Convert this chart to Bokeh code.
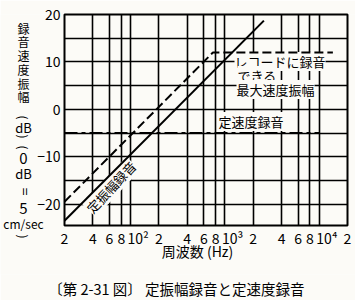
import math
from bokeh.plotting import figure
from bokeh.layouts import row
from bokeh.models import FixedTicker, Label, Range1d, Title
from bokeh.embed import file_html
from bokeh.resources import INLINE

# ---- data ----
freq_ticks = [20, 40, 60, 80, 100, 200, 400, 600, 800, 1000,
              2000, 4000, 6000, 8000, 10000, 20000]
freq_tick_labels = ["2", "4", "6", "8", "\u2007\u200710\u00b2",
                    "2", "4", "6", "8", "\u2007\u200710\u00b3",
                    "2", "4", "6", "8", "\u2007\u200710\u2074", "2"]
db_ticks = [20, 10, 0, -10, -20]
db_tick_labels = ["20", "10", "0", "\u221210", "\u221220"]
db_grid = [-20, -15, -10, -5, 0, 5, 10, 15]

amp_freq = [20, 2600]          # 定振幅録音
amp_db = [-23.5, 18.7]
maxvel_freq = [20, 750, 14000]  # レコードに録音できる最大速度振幅
maxvel_db = [-19.5, 12, 12]
constvel_freq = [20, 10000]     # 定速度録音
constvel_db = [-5, -5]

# vertical y-axis title (written top to bottom)
y_title_parts = ["録", "音", "速", "度", "振", "幅", "(", "dB", ")",
                 "(", "0", "dB", "=", "5", "cm/sec", ")"]
x_title = "周波数 (Hz)"
caption = "〔第 2-31 図〕  定振幅録音と定速度録音"

# placement of the y-title pieces (canvas pixels) and their styling
y_title_pos = [27.5, 41, 55, 69, 82.5, 96, 117, 127, 136,
               147, 157.5, 173, 191, 208, 223, 236]
y_title_size = ["12px"] * 6 + ["12px", "13px", "12px", "12px", "15px",
                               "13px", "14px", "15px", "12px", "12px"]
y_title_rot = [0] * 6 + [-math.pi / 2, 0, -math.pi / 2, -math.pi / 2, 0, 0,
                         math.pi / 2, 0, 0, -math.pi / 2]

FONT = "Noto Sans CJK JP"
BG = "#fcfbf7"

W, H = 355, 300
L, R, T = 64, 8, 14
FRAME_BOTTOM = 225
PB = 26                       # border below the chart frame
PH = FRAME_BOTTOM + PB        # height of the chart canvas

# ---- background sheet: texts that lie outside the chart frame ----
sheet = figure(width=W, height=H, x_range=Range1d(0, W),
               y_range=Range1d(H - PB, T),
               output_backend="svg", toolbar_location=None,
               min_border=0, x_axis_location=None, y_axis_location=None,
               background_fill_color=BG, border_fill_color=BG,
               margin=(0, -W, 0, 0))
sheet.outline_line_color = None
sheet.xgrid.visible = False
sheet.ygrid.visible = False
for txt, yc, fs, rot in zip(y_title_parts, y_title_pos, y_title_size, y_title_rot):
    sheet.add_layout(Label(x=23, y=yc, text=txt, text_font=FONT,
                           text_font_size=fs, text_color="black",
                           text_align="center", text_baseline="middle",
                           angle=rot, angle_units="rad"))
sheet.add_layout(Label(x=197, y=250, text=x_title, text_font=FONT,
                       text_font_size="14px", text_color="black",
                       text_align="center", text_baseline="middle"))
sheet.add_layout(Title(text=caption, align="center", offset=10,
                       text_font=FONT, text_font_size="14.5px",
                       text_font_style="normal", text_color="black",
                       standoff=3), "below")

# ---- main chart ----
p = figure(width=W, height=PH, x_axis_type="log",
           x_range=Range1d(20, 20000), y_range=Range1d(-24.5, 20),
           output_backend="svg", toolbar_location=None,
           min_border_left=L, min_border_right=R,
           min_border_top=T, min_border_bottom=PB,
           background_fill_color=BG, border_fill_color=None)

p.outline_line_color = "black"
p.outline_line_width = 2

p.xaxis.ticker = FixedTicker(ticks=freq_ticks, minor_ticks=[])
p.xaxis.major_label_overrides = {t: s for t, s in zip(freq_ticks, freq_tick_labels)}
p.yaxis.ticker = FixedTicker(ticks=db_ticks, minor_ticks=[])
p.yaxis.major_label_overrides = {t: s for t, s in zip(db_ticks, db_tick_labels)}

for ax in (p.xaxis[0], p.yaxis[0]):
    ax.axis_line_color = None
    ax.major_tick_line_color = None
    ax.minor_tick_line_color = None
    ax.major_tick_out = 0
    ax.major_tick_in = 0
    ax.major_label_text_font = FONT
    ax.major_label_text_font_size = "14px"
    ax.major_label_text_color = "black"
p.xaxis.major_label_standoff = 2
p.yaxis.major_label_standoff = 4

p.xgrid.ticker = FixedTicker(ticks=freq_ticks, minor_ticks=[])
p.ygrid.ticker = FixedTicker(ticks=db_grid, minor_ticks=[])
for g in (p.xgrid[0], p.ygrid[0]):
    g.grid_line_color = "black"
    g.grid_line_width = 1.6
    g.grid_line_alpha = 1.0

p.line(amp_freq, amp_db, line_color="black", line_width=2, level="overlay")
p.line(maxvel_freq, maxvel_db, line_color="black", line_width=2,
       line_dash="9 4", level="overlay")
p.line(constvel_freq, constvel_db, line_color="black", line_width=2,
       line_dash="13 4 4 4", level="overlay")


def add_text(txt, xc, yc, size="13px"):
    """text box inside the frame, placed by canvas pixel"""
    lab = Label(x=xc - L, y=FRAME_BOTTOM - yc, x_units="screen", y_units="screen",
                text=txt, text_font=FONT, text_font_size=size,
                text_color="black", text_align="left", text_baseline="middle",
                background_fill_color=BG)
    p.add_layout(lab)


add_text("定速度録音", 218, 121)
add_text("レコードに録音", 234, 61)
add_text("できる", 237, 75)
add_text("最大速度振幅", 236, 89)

p.add_layout(Label(x=62.5, y=-16.4, text="定振幅録音", text_font=FONT,
                   text_font_size="13px", text_color="black",
                   text_align="center", text_baseline="middle",
                   angle=0.82, angle_units="rad", background_fill_color=BG))

layout = row(sheet, p)
open("out.html", "w").write(file_html(layout, INLINE))
